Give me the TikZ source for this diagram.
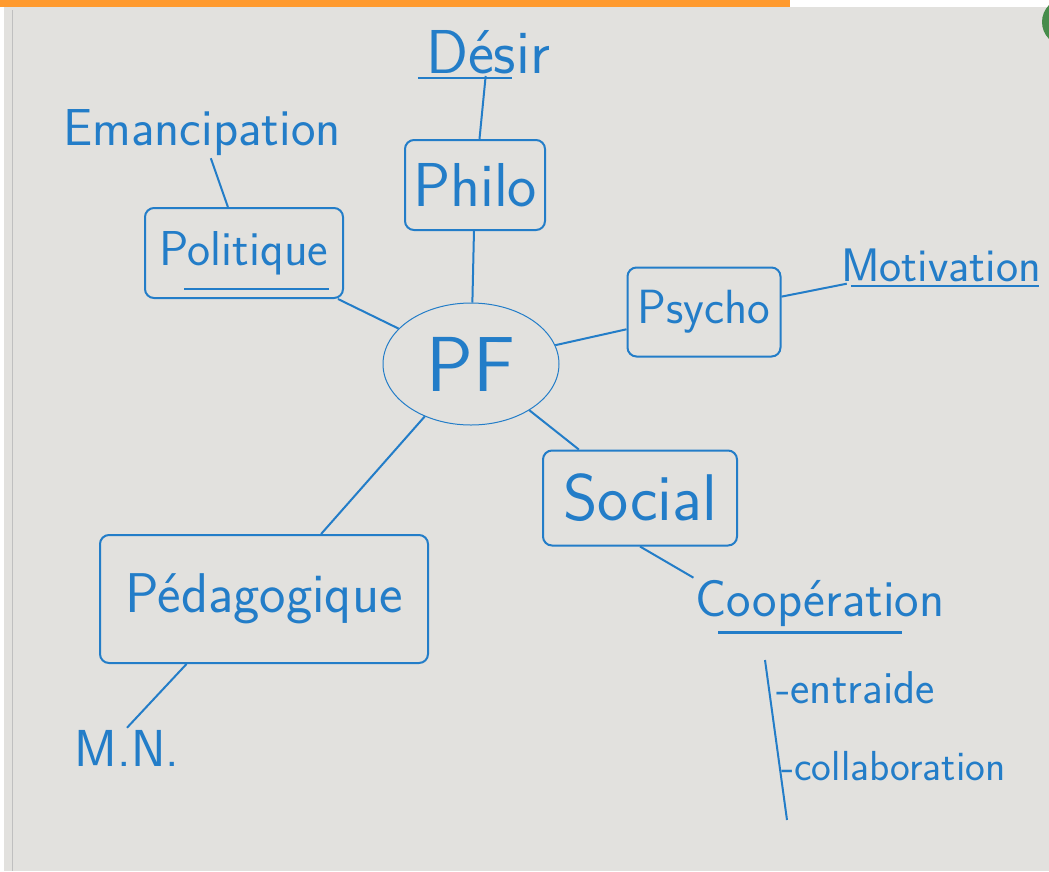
\documentclass[tikz,border=0pt]{standalone}
\usetikzlibrary{positioning}
\usetikzlibrary{shapes.geometric}
\definecolor{marker}{RGB}{35,125,200}
\definecolor{board}{RGB}{226,225,222}
\definecolor{tape}{RGB}{255,154,46}
\definecolor{magnet}{RGB}{70,140,75}
\tikzstyle{topic}=[draw=marker,line width=2pt,rounded corners=9pt,text=marker,inner sep=0pt]
\tikzstyle{hub}=[ellipse,draw=marker,line width=1pt,text=marker,inner sep=0pt]
\tikzstyle{word}=[text=marker,inner sep=2pt]
\tikzstyle{undirectededge} = [draw=marker,line width=2pt]
\tikzstyle{underline} = [draw=marker,line width=2.4pt]

\begin{document}
\begin{tikzpicture}[x=1pt,y=-1pt,font=\sffamily]

  \useasboundingbox (0,0) rectangle (1049,871);

% Board
   \fill[white] (0,0) rectangle (1049,871);
   \fill[board] (4,7) rectangle (1049,871);
   \draw[black!25,line width=0.8pt] (12,10) -- (12,871);
   \fill[tape] (0,0) rectangle (790,7);
   \fill[magnet] (1066,22) circle (24);

%Hub
    \node[hub,minimum width=176,minimum height=122,font=\sffamily\fontsize{78}{78}\selectfont] (pf) at (471,364) {PF};

%layer 1
    \foreach \pos/\name/\label/\w/\h/\size in {{(475,185)/philo/Philo/140/90/62}, {(244,253)/politique/Politique/198/90/49}, {(704,312)/psycho/Psycho/153/89/48}, {(640,498)/social/Social/194/95/66}, {(264,599)/pedago/Pédagogique/328/128/56}}
        \node[topic,minimum width=\w,minimum height=\h,font=\sffamily\fontsize{\size}{\size}\selectfont] (\name) at \pos {\label};

%layer 2
    \foreach \pos/\name/\label/\size in {{(488,52)/desir/Désir/62}, {(202,133)/emancip/Emancipation/52}, {(941,265)/motiv/Motivation/47}, {(820,603)/coop/Coopération/52}, {(127,748)/mn/M.N./52}}
        \node[word,font=\sffamily\fontsize{\size}{\size}\selectfont] (\name) at \pos {\label};

%layer 3
    \node[word,anchor=west,font=\sffamily\fontsize{46}{46}\selectfont] (entraide) at (774,688) {-entraide};
    \node[word,anchor=west,font=\sffamily\fontsize{42}{42}\selectfont] (collab) at (779,766) {-collaboration};

 % Edges
    \foreach \source/ \dest in {desir/philo, philo/pf, emancip/politique, politique/pf, pf/psycho, psycho/motiv, pf/social, social.south/coop.north west, pf/pedago, pedago.220/mn.north}
        \path[undirectededge] (\source) -- (\dest);

   \coordinate (bracktop) at (765,660);
   \coordinate (brackbot) at (787,820);
   \path[undirectededge] (bracktop) -- (brackbot);

 % Underlines
   \path[underline] ([xshift=-6pt,yshift=-2pt]desir.south west) -- ([xshift=-40pt,yshift=-2pt]desir.south east);
   \path[underline] ([xshift=40pt,yshift=10pt]politique.south west) -- ([xshift=-15pt,yshift=10pt]politique.south east);
   \path[underline] ([xshift=12pt,yshift=-2pt]motiv.south west) -- ([xshift=-4pt,yshift=-2pt]motiv.south east);
   \path[underline] ([xshift=25pt,yshift=-4pt]coop.south west) -- ([xshift=-45pt,yshift=-4pt]coop.south east);

\end{tikzpicture}
\end{document}
